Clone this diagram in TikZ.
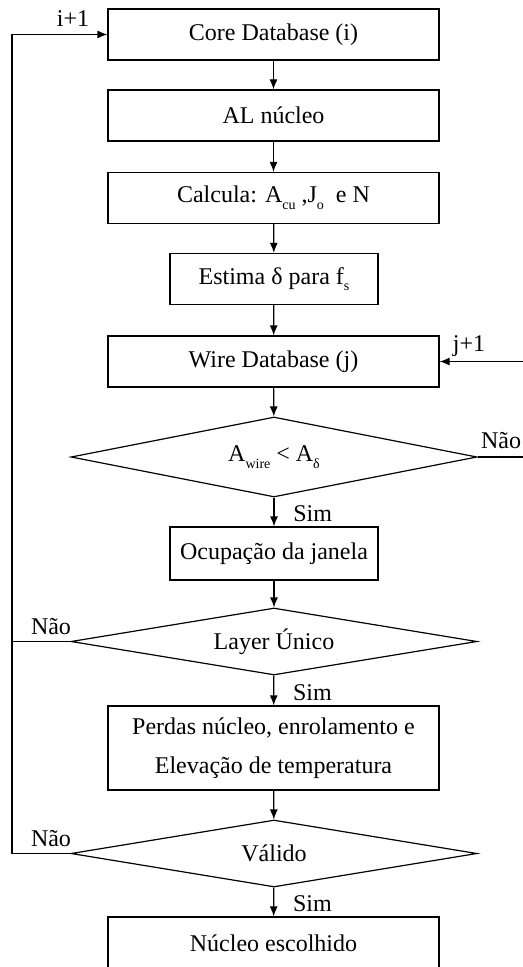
\documentclass[tikz,border=0pt]{standalone}
\usepackage{fontspec}
\setmainfont{Liberation Serif}
\usetikzlibrary{shapes.geometric,arrows.meta}

\tikzset{
  box/.style={draw,line width=0.6pt,inner sep=0pt,minimum width=165.5pt,minimum height=25.5pt,align=center},
  smallbox/.style={box,minimum width=104pt},
  decision/.style={diamond,draw,line width=0.6pt,inner sep=0pt,aspect=6.06,minimum width=203pt,minimum height=33.5pt},
  flow/.style={line width=0.6pt,-{Latex[length=5pt,width=4pt]}},
  link/.style={line width=0.6pt}
}

\newcommand{\sub}[1]{\raisebox{-0.6ex}{\scriptsize #1}}

\begin{document}
\begin{tikzpicture}[x=0.5pt,y=-0.5pt, every node/.style={font=\fontsize{12}{19.5}\selectfont}]

\useasboundingbox (0,0) rectangle (523,967);

\node [box] (core) at (273.5,34.5) {Core Database (i)};
\node [box] (al) at (273.5,115.5) {AL núcleo};
\node [box] (calc) at (273.5,198) {Calcula: A\sub{cu} ,J\sub{o}\ \ e N};
\node [smallbox] (est) at (274,279) {Estima δ para f\sub{s}};
\node [box] (wire) at (273.5,361.5) {Wire Database (j)};
\node [decision,aspect=5.07,minimum height=40pt] (dwire) at (274,457) {A\sub{wire} < A\sub{δ}};
\node [smallbox,minimum height=26.5pt] (ocup) at (274,553.5) {Ocupação da janela};
\node [decision] (dlayer) at (274,641.5) {Layer Único};
\node [box,minimum height=42pt] (perdas) at (273.5,748) {Perdas núcleo, enrolamento e\\Elevação de temperatura};
\node [decision] (dvalid) at (274,853.5) {Válido};
\node [box,minimum height=26pt] (nucleo) at (273.5,943) {Núcleo escolhido};

\coordinate (leftloop) at (12,0);
\coordinate (rightloop) at (540,0);

\draw [flow] (core) -- (al);
\draw [flow] (al) -- (calc);
\draw [flow] (calc) -- (est);
\draw [flow] (est) -- (wire);
\draw [flow] (wire) -- (dwire);
\draw [flow] (dwire) -- node [right,xshift=6pt,yshift=-1pt] {Sim} (ocup);
\draw [flow] (ocup) -- (dlayer);
\draw [flow] (dlayer) -- node [right,xshift=6pt,yshift=-1pt] {Sim} (perdas);
\draw [flow] (perdas) -- (dvalid);
\draw [flow] (dvalid) -- node [right,xshift=6pt,yshift=-1pt] {Sim} (nucleo);

% loops
\draw [flow] (dvalid.west) -- (dvalid.west -| leftloop) |- (core.west);
\draw [link] (dlayer.west) -- (dlayer.west -| leftloop);
\draw [flow] (dwire.east) -- (dwire.east -| rightloop) |- (wire.east);

\node (i1) at (73,19) {i+1};
\node (j1) at (469,346) {j+1};
\node (nao1) at (501,441) {Não};
\node (nao2) at (51,627) {Não};
\node (nao3) at (51,839) {Não};

\end{tikzpicture}
\end{document}
